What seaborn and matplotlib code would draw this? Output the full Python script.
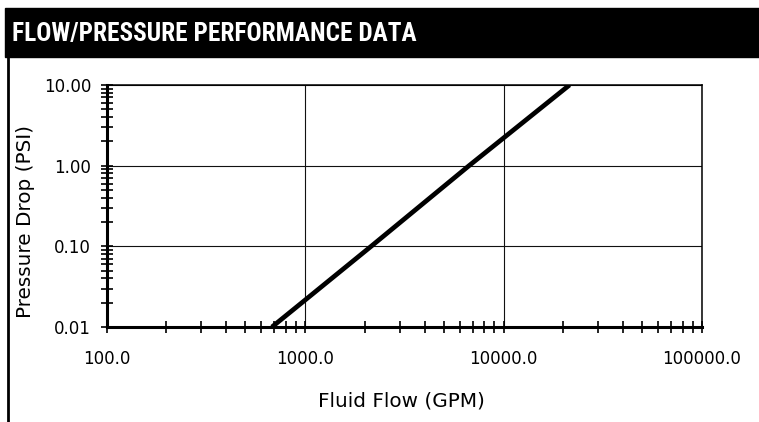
import matplotlib
matplotlib.use("Agg")
import matplotlib.pyplot as plt
import seaborn as sns
from matplotlib import font_manager as fm
from matplotlib.ticker import LogLocator, NullFormatter

# Данные
flow_gpm = [680, 1000, 2150, 6700, 21500]
pressure_psi = [0.01, 0.0216, 0.1, 1.0, 10.0]

x_ticks = [100, 1000, 10000, 100000]
x_tick_labels = ["100.0", "1000.0", "10000.0", "100000.0"]
y_ticks = [0.01, 0.1, 1, 10]
y_tick_labels = ["0.01", "0.10", "1.00", "10.00"]

title = "FLOW/PRESSURE PERFORMANCE DATA"
x_label = "Fluid Flow (GPM)"
y_label = "Pressure Drop (PSI)"

sns.set_theme(style="white")
plt.rcParams["font.family"] = ["DejaVu Sans"]

# Узкий жирный шрифт для заголовка, если есть
names = {f.name for f in fm.fontManager.ttflist}
header_font, header_size = "Liberation Sans", 14.5
for cand in ["Liberation Sans Narrow", "Roboto Condensed", "DejaVu Sans Condensed"]:
    if cand in names:
        header_font, header_size = cand, 18.2
        break

fig = plt.figure(figsize=(7.59, 4.22), dpi=100)
ax = fig.add_axes([0.1406, 0.2251, 0.9249 - 0.1406, 0.7986 - 0.2251])

sns.lineplot(x=flow_gpm, y=pressure_psi, ax=ax, color="black", linewidth=3.4,
             solid_capstyle="butt")

ax.set_xscale("log")
ax.set_yscale("log")
ax.set_xlim(100, 100000)
ax.set_ylim(0.01, 10)

ax.set_xticks(x_ticks, x_tick_labels)
ax.set_yticks(y_ticks, y_tick_labels)
ax.xaxis.set_minor_locator(LogLocator(base=10, subs=range(2, 10), numticks=20))
ax.yaxis.set_minor_locator(LogLocator(base=10, subs=range(2, 10), numticks=20))
ax.xaxis.set_minor_formatter(NullFormatter())
ax.yaxis.set_minor_formatter(NullFormatter())

ax.tick_params(axis="both", which="both", direction="inout", length=8.6, width=1.2,
               color="black", labelcolor="black", labelsize=12,
               bottom=True, left=True, top=False, right=False)
ax.tick_params(axis="x", which="both", pad=12.5)
ax.tick_params(axis="y", which="both", pad=7.0)

ax.grid(True, which="major", color="#111111", linewidth=0.8)
ax.grid(False, which="minor")

for side in ["left", "bottom"]:
    ax.spines[side].set_linewidth(2.2)
for side in ["top", "right"]:
    ax.spines[side].set_linewidth(1.1)
for sp in ax.spines.values():
    sp.set_color("black")
    sp.set_visible(True)

ax.set_xlabel(x_label, fontsize=14.4, color="black")
ax.xaxis.set_label_coords(0.495, -0.267)
ax.set_ylabel(y_label, fontsize=14.4, color="black", va="center")
ax.yaxis.set_label_coords(-0.137, 0.434)

# Чёрная плашка заголовка и левая вертикальная линия
fig.patches.append(plt.Rectangle((0.0066, 0.8649), 1.0, 0.981 - 0.8649,
                                 transform=fig.transFigure, color="black", zorder=0))
fig.add_artist(plt.Line2D([0.0105, 0.0105], [0.0, 0.8649], transform=fig.transFigure,
                          color="black", linewidth=2.0))
fig.text(0.0158, 0.9036, title, color="white", fontsize=header_size, fontweight="bold",
         family=header_font, ha="left", va="baseline")

fig.savefig("out.png", dpi=100, facecolor="white")
